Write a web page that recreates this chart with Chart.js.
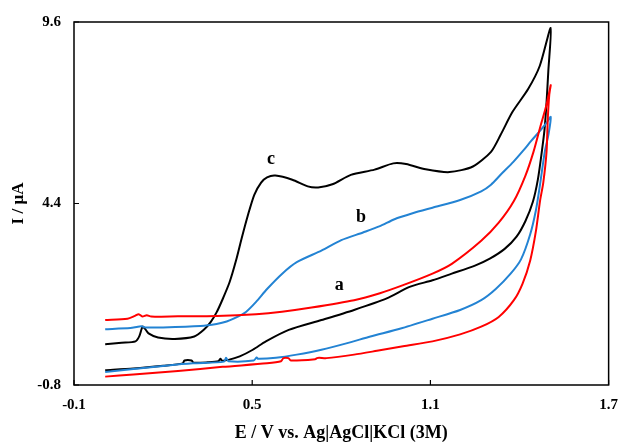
<!DOCTYPE html>
<html>
<head>
<meta charset="utf-8">
<script src="https://cdn.jsdelivr.net/npm/chart.js@4/dist/chart.umd.min.js"></script>
<style>
  html, body { margin: 0; padding: 0; background: #fff; }
  #wrap { width: 629px; height: 442px; }
</style>
</head>
<body>
<div id="wrap"><canvas id="c" width="629" height="442"></canvas></div>
<script>
// ---- data (E in V, I in µA) ----
const xTicks = [-0.1, 0.5, 1.1, 1.7];
const yTicks = [-0.8, 4.4, 9.6];

const aE = [0.005,0.08,0.105,0.118,0.13,0.145,0.16,0.25,0.38,0.513,0.60,0.70,0.843,0.93,1.008,1.107,1.172,1.271,1.33,1.381,1.42,1.447,1.47,1.49,1.505,
            1.50,1.495,1.491,1.48,1.469,1.455,1.436,1.41,1.381,1.33,1.271,1.2,1.107,1.008,0.92,0.843,0.75,0.725,0.718,0.712,0.63,0.622,0.605,0.597,0.55,0.4,0.25,0.1,0.005];
const aI = [1.06,1.10,1.18,1.23,1.16,1.20,1.16,1.17,1.18,1.23,1.30,1.42,1.63,1.83,2.06,2.39,2.67,3.33,3.85,4.47,5.2,5.88,6.6,7.2,7.79,
            7.5,6.8,5.88,5.0,4.47,3.6,2.77,2.1,1.63,1.15,0.87,0.65,0.45,0.31,0.18,0.07,-0.03,-0.02,-0.03,-0.06,-0.10,-0.03,-0.03,-0.12,-0.18,-0.28,-0.40,-0.50,-0.56];

const bE = [0.005,0.09,0.115,0.128,0.14,0.2,0.326,0.38,0.414,0.45,0.48,0.513,0.55,0.601,0.65,0.733,0.80,0.873,0.93,0.979,1.04,1.107,1.2,1.271,1.304,1.337,1.38,1.413,1.44,1.469,1.49,1.505,
            1.498,1.485,1.469,1.455,1.436,1.405,1.37,1.32,1.271,1.2,1.107,1.0,0.898,0.82,0.733,0.65,0.58,0.52,0.515,0.505,0.42,0.412,0.405,0.3,0.216,0.1,0.005];
const bI = [0.80,0.83,0.87,0.88,0.85,0.85,0.89,0.95,1.02,1.15,1.30,1.58,1.95,2.39,2.72,3.05,3.35,3.57,3.75,3.95,4.12,4.28,4.5,4.75,4.94,5.23,5.6,5.92,6.2,6.48,6.7,6.88,
            6.4,5.88,4.94,4.2,3.52,2.8,2.39,1.95,1.63,1.35,1.1,0.82,0.59,0.4,0.21,0.07,-0.02,-0.05,-0.01,-0.1,-0.12,-0.02,-0.13,-0.18,-0.24,-0.34,-0.43];

const cE = [0.005,0.06,0.107,0.12,0.131,0.14,0.151,0.183,0.239,0.305,0.337,0.36,0.38,0.40,0.424,0.445,0.465,0.485,0.507,0.53,0.55,0.578,0.635,0.687,0.722,0.77,0.832,0.912,0.975,1.018,1.084,1.164,1.243,1.304,1.336,1.376,1.429,1.468,1.505,
            1.497,1.491,1.484,1.475,1.462,1.445,1.42,1.39,1.35,1.3,1.25,1.172,1.107,1.03,0.953,0.843,0.733,0.623,0.546,0.502,0.458,0.42,0.398,0.393,0.386,0.35,0.302,0.296,0.272,0.266,0.2,0.1,0.005];
const cI = [0.37,0.41,0.45,0.6,0.87,0.8,0.68,0.56,0.52,0.59,0.78,1.0,1.28,1.65,2.15,2.75,3.42,4.05,4.65,5.0,5.15,5.2,5.08,4.89,4.86,4.95,5.22,5.37,5.55,5.53,5.38,5.3,5.46,5.88,6.36,7.02,7.68,8.34,9.43,
            8.2,7.3,6.5,5.88,5.1,4.45,3.9,3.45,3.1,2.82,2.62,2.39,2.2,2.01,1.68,1.35,1.06,0.78,0.45,0.21,0.02,-0.08,-0.10,-0.05,-0.12,-0.15,-0.16,-0.1,-0.1,-0.18,-0.25,-0.33,-0.38];

const labelText = ['a', 'b', 'c'];
const labelE = [0.793, 0.866, 0.563];
const labelI = [2.06, 4.01, 5.66];

const seriesColors = ['#ff0000', '#2383d3', '#000000'];

function pts(xs, ys) { return xs.map((x, i) => ({ x: x, y: ys[i] })); }

const serif = "'Liberation Serif', 'Times New Roman', serif";

const framePlugin = {
  id: 'frame',
  afterDatasetsDraw(chart) {
    const { ctx, chartArea: ca, scales } = chart;
    ctx.save();
    ctx.strokeStyle = '#000';
    ctx.lineWidth = 1.5;
    ctx.strokeRect(ca.left, ca.top, ca.right - ca.left, ca.bottom - ca.top);
    ctx.lineWidth = 1.2;
    ctx.beginPath();
    xTicks.forEach(v => {
      const px = scales.x.getPixelForValue(v);
      ctx.moveTo(px, ca.bottom); ctx.lineTo(px, ca.bottom - 5);
    });
    yTicks.forEach(v => {
      const py = scales.y.getPixelForValue(v);
      ctx.moveTo(ca.left, py); ctx.lineTo(ca.left + 5, py);
    });
    ctx.stroke();
    ctx.fillStyle = '#000';
    ctx.font = 'bold 18px ' + serif;
    ctx.textAlign = 'center';
    ctx.textBaseline = 'middle';
    labelText.forEach((t, i) => {
      ctx.fillText(t, scales.x.getPixelForValue(labelE[i]), scales.y.getPixelForValue(labelI[i]));
    });
    ctx.restore();
  }
};

new Chart(document.getElementById('c'), {
  type: 'scatter',
  data: {
    datasets: [
      { label: 'a', data: pts(aE, aI), borderColor: seriesColors[0] },
      { label: 'b', data: pts(bE, bI), borderColor: seriesColors[1] },
      { label: 'c', data: pts(cE, cI), borderColor: seriesColors[2] }
    ]
  },
  options: {
    responsive: false,
    animation: false,
    layout: { padding: { left: 0, right: 9, top: 19, bottom: 0 } },
    elements: {
      point: { radius: 0, hoverRadius: 0 },
      line: { borderWidth: 2, tension: 0.25, fill: false }
    },
    datasets: { scatter: { showLine: true } },
    plugins: { legend: { display: false }, tooltip: { enabled: false } },
    scales: {
      x: {
        type: 'linear', min: -0.1, max: 1.7,
        afterBuildTicks: s => { s.ticks = xTicks.map(v => ({ value: v })); },
        afterFit: s => { s.height = 57; },
        grid: { display: false, drawTicks: false },
        border: { display: false },
        ticks: { padding: 11, color: '#000', font: { family: serif, size: 15, weight: 'bold' },
                 callback: v => v.toFixed(1), maxRotation: 0 },
        title: { display: true, text: 'E / V vs. Ag|AgCl|KCl (3M)', color: '#000',
                 font: { family: serif, size: 18, weight: 'bold' }, padding: { top: 0, bottom: -2 } }
      },
      y: {
        type: 'linear', min: -0.8, max: 9.6,
        afterBuildTicks: s => { s.ticks = yTicks.map(v => ({ value: v })); },
        afterFit: s => { s.width = 74; },
        grid: { display: false, drawTicks: false },
        border: { display: false },
        ticks: { padding: 13, color: '#000', font: { family: serif, size: 15, weight: 'bold' },
                 callback: v => v.toFixed(1) },
        title: { display: true, text: 'I / µA', color: '#000',
                 font: { family: serif, size: 17, weight: 'bold' }, padding: { top: 8, bottom: 0 } }
      }
    }
  },
  plugins: [framePlugin]
});
</script>
</body>
</html>
